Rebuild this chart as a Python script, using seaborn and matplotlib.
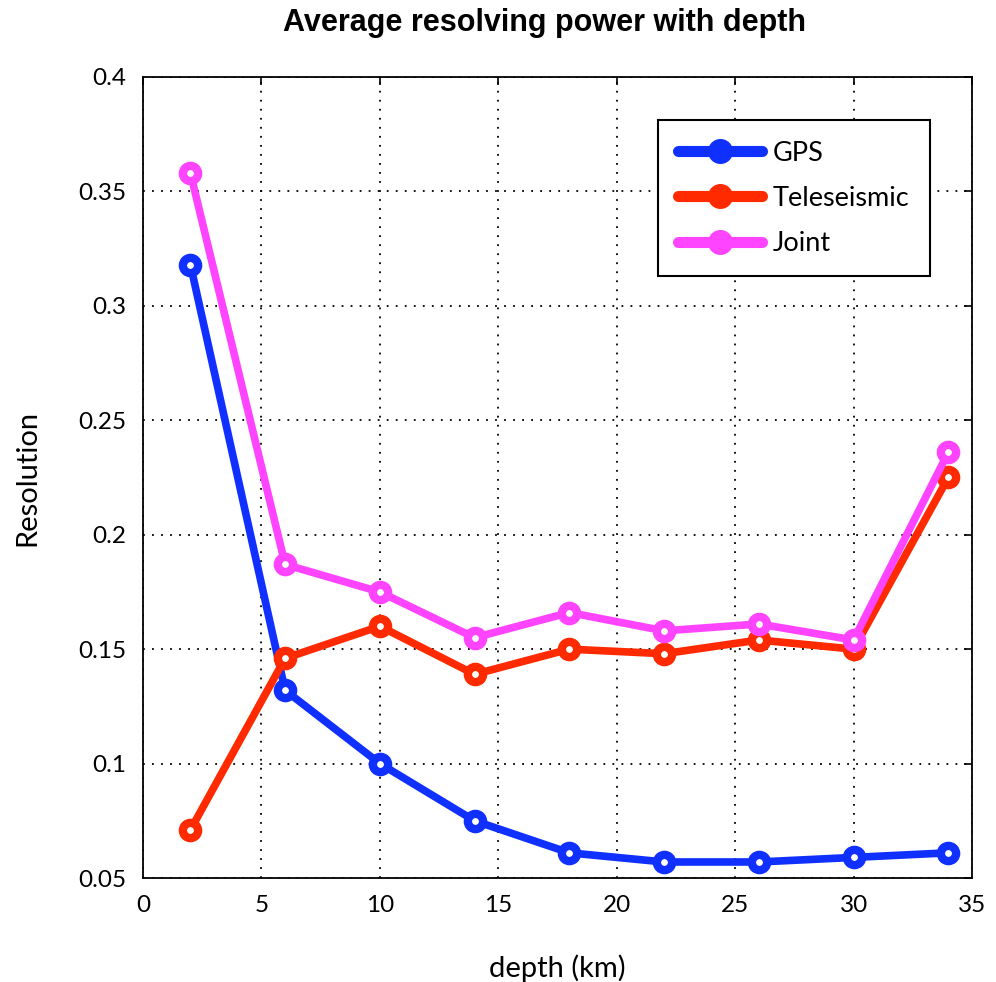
import numpy as np
import pandas as pd
import seaborn as sns
import matplotlib
matplotlib.use("Agg")
import matplotlib.pyplot as plt
from matplotlib.lines import Line2D

depth = [2, 6, 10, 14, 18, 22, 26, 30, 34]
gps = [0.318, 0.132, 0.100, 0.075, 0.061, 0.057, 0.057, 0.059, 0.061]
tele = [0.071, 0.146, 0.160, 0.139, 0.150, 0.148, 0.154, 0.150, 0.225]
joint = [0.358, 0.187, 0.175, 0.155, 0.166, 0.158, 0.161, 0.154, 0.236]
series = ["GPS", "Teleseismic", "Joint"]
colors = ["#1030FF", "#FF2A00", "#FF44FF"]
xticks = [0, 5, 10, 15, 20, 25, 30, 35]
yticks = [0.05, 0.1, 0.15, 0.2, 0.25, 0.3, 0.35, 0.4]
ytick_labels = ["0.05", "0.1", "0.15", "0.2", "0.25", "0.3", "0.35", "0.4"]

df = pd.DataFrame({
    "depth": depth * 3,
    "value": gps + tele + joint,
    "series": [s for s in series for _ in depth],
})

sns.set_style("white")
plt.rcParams['font.family'] = ['Lato', 'DejaVu Sans']
plt.rcParams['text.color'] = 'black'
plt.rcParams['axes.labelcolor'] = 'black'

fig = plt.figure(figsize=(9.96, 9.82), dpi=100)
ax = fig.add_axes([0.1436, 0.1059, 0.8323, 0.8157])

sns.lineplot(data=df, x="depth", y="value", hue="series", hue_order=series,
             palette=colors, marker="o", markersize=11, markeredgewidth=6,
             markerfacecolor="white", linewidth=5.5, ax=ax, legend=False,
             estimator=None, sort=False)
for ln, c in zip(ax.lines, colors):
    ln.set_markeredgecolor(c)

ax.set_xlim(0, 35)
ax.set_ylim(0.05, 0.4)
ax.set_xticks(xticks)
ax.set_yticks(yticks)
ax.set_xticklabels([str(t) for t in xticks])
ax.set_yticklabels(ytick_labels)
ax.grid(True, linestyle=(0, (1, 4)), color="black", linewidth=1.3)
ax.tick_params(direction="in", length=6, width=1.2, top=True, right=True,
               labelsize=17.5, colors="black", pad=12)
for sp in ax.spines.values():
    sp.set_visible(True)
    sp.set_color("black")
    sp.set_linewidth(1.3)

ax.set_xlabel("depth (km)", fontsize=21, labelpad=28)
ax.set_ylabel("Resolution", fontsize=21, labelpad=27)
fig.text(0.547, 0.977, "Average resolving power with depth", fontsize=22,
         fontweight="bold", family=["Liberation Sans", "DejaVu Sans"],
         ha="center", va="center", color="black")

handles = [Line2D([0], [0], color=c, linewidth=8, marker="o", markersize=17,
                  markerfacecolor=c, markeredgecolor=c) for c in colors]
leg = ax.legend(handles, series, loc="upper right", bbox_to_anchor=(0.949, 0.946),
                fontsize=19.5, frameon=True, fancybox=False, handlelength=3.1,
                borderpad=0.75, labelspacing=0.75, handletextpad=0.4, borderaxespad=0)
leg.get_frame().set_edgecolor("black")
leg.get_frame().set_linewidth(1.5)
leg.get_frame().set_alpha(1)

fig.savefig("out.png", dpi=100)
